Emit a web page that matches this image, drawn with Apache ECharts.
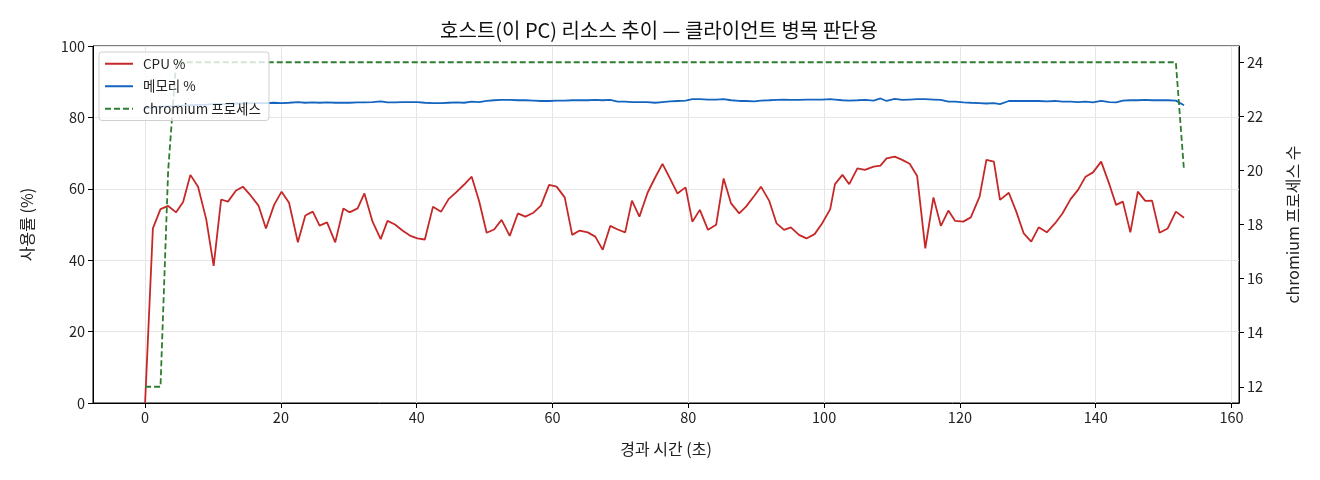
<!DOCTYPE html>
<html>
<head>
<meta charset="utf-8">
<script src="https://cdn.jsdelivr.net/npm/echarts@6/dist/echarts.min.js"></script>
<style>
  html, body { margin: 0; padding: 0; background: #fff; }
  #main { width: 1320px; height: 480px; }
</style>
</head>
<body>
<div id="main"></div>
<script>
// 경과 시간 (초)
var times = [
  0, 1.15, 2.27, 3.4, 4.57, 5.6, 6.67, 7.8, 9.0, 10.1,
  11.2, 12.2, 13.4, 14.4, 15.6, 16.7, 17.8, 19.0, 20.1, 21.2,
  22.5, 23.6, 24.7, 25.7, 26.8, 28.0, 29.2, 30.1, 31.3, 32.3,
  33.5, 34.7, 35.7, 36.8, 37.9, 39.0, 40.1, 41.2, 42.4, 43.6,
  44.7, 45.8, 47.0, 48.1, 49.2, 50.3, 51.4, 52.5, 53.7, 54.9,
  56.0, 57.2, 58.3, 59.5, 60.6, 61.8, 62.9, 64.0, 65.2, 66.3,
  67.4, 68.5, 69.6, 70.7, 71.7, 72.8, 74.0, 75.1, 76.2, 77.3,
  78.4, 79.6, 80.6, 81.7, 82.9, 84.1, 85.2, 86.3, 87.5, 88.5,
  89.7, 90.7, 91.9, 93.0, 94.1, 95.1, 96.3, 97.4, 98.6, 99.7,
  100.9, 101.6, 102.7, 103.7, 104.9, 106.0, 107.3, 108.3, 109.2, 110.4,
  111.5, 112.6, 113.7, 114.9, 116.1, 117.2, 118.3, 119.3, 120.5, 121.6,
  122.9, 123.9, 125.0, 125.9, 127.2, 128.3, 129.4, 130.5, 131.6, 132.8,
  134.0, 135.1, 136.3, 137.4, 138.5, 139.6, 140.8, 142.0, 143.0, 144.0,
  145.1, 146.2, 147.3, 148.3, 149.4, 150.6, 151.8, 153.0
];
var cpu = [
  0, 48.9, 54.3, 55.2, 53.4, 56.3, 63.9, 60.6, 51.5, 38.4,
  57.0, 56.4, 59.5, 60.6, 58.0, 55.3, 48.9, 55.5, 59.2, 56.1,
  45.0, 52.5, 53.6, 49.7, 50.6, 45.0, 54.5, 53.4, 54.5, 58.7,
  50.8, 45.9, 51.0, 50.0, 48.3, 46.9, 46.1, 45.8, 55.0, 53.6,
  57.1, 59.0, 61.2, 63.4, 56.5, 47.7, 48.6, 51.3, 46.8, 53.1,
  52.2, 53.3, 55.3, 61.1, 60.6, 57.6, 47.1, 48.3, 47.8, 46.6,
  42.9, 49.6, 48.6, 47.8, 56.7, 52.2, 58.9, 63.1, 67.0, 62.9,
  58.7, 60.4, 50.8, 54.1, 48.5, 49.9, 62.9, 55.9, 53.1, 55.0,
  58.0, 60.6, 56.7, 50.3, 48.5, 49.2, 47.1, 46.1, 47.3, 50.3,
  54.3, 61.3, 63.9, 61.3, 65.7, 65.3, 66.2, 66.5, 68.5, 69.0,
  68.1, 67.0, 63.6, 43.3, 57.6, 49.6, 53.9, 51.0, 50.8, 52.0,
  57.8, 68.1, 67.6, 56.9, 58.9, 53.6, 47.5, 45.2, 49.2, 47.8,
  50.3, 53.1, 57.1, 59.7, 63.4, 64.6, 67.6, 61.3, 55.5, 56.4,
  47.8, 59.2, 56.6, 56.7, 47.7, 48.9, 53.6, 51.9
];
var mem = [
  82.6, 82.8, 83.0, 83.1, 83.2, 83.3, 83.4, 83.5, 83.6, 83.7,
  83.7, 83.8, 83.9, 83.9, 84.0, 84.0, 84.0, 84.1, 84.0, 84.1,
  84.3, 84.1, 84.2, 84.1, 84.2, 84.1, 84.1, 84.1, 84.2, 84.2,
  84.3, 84.5, 84.2, 84.2, 84.3, 84.3, 84.3, 84.1, 84.0, 84.0,
  84.1, 84.2, 84.1, 84.4, 84.3, 84.6, 84.8, 84.9, 84.9, 84.8,
  84.8, 84.7, 84.6, 84.6, 84.7, 84.7, 84.8, 84.8, 84.8, 84.9,
  84.8, 84.9, 84.4, 84.4, 84.3, 84.3, 84.3, 84.1, 84.3, 84.5,
  84.6, 84.7, 85.1, 85.1, 85.0, 85.0, 85.1, 84.8, 84.6, 84.6,
  84.5, 84.7, 84.8, 84.9, 85.0, 84.9, 84.9, 85.0, 85.0, 85.0,
  85.1, 85.0, 84.8, 84.7, 84.8, 84.9, 84.7, 85.3, 84.6, 85.2,
  84.9, 85.0, 85.1, 85.1, 85.0, 84.9, 84.4, 84.4, 84.2, 84.1,
  84.0, 83.9, 84.0, 83.7, 84.6, 84.6, 84.6, 84.6, 84.6, 84.5,
  84.6, 84.4, 84.4, 84.3, 84.4, 84.2, 84.6, 84.3, 84.2, 84.7,
  84.8, 84.8, 84.9, 84.8, 84.8, 84.8, 84.7, 83.4
];
var procs = [
  12, 12, 12, 20, 24, 24, 24, 24, 24, 24,
  24, 24, 24, 24, 24, 24, 24, 24, 24, 24,
  24, 24, 24, 24, 24, 24, 24, 24, 24, 24,
  24, 24, 24, 24, 24, 24, 24, 24, 24, 24,
  24, 24, 24, 24, 24, 24, 24, 24, 24, 24,
  24, 24, 24, 24, 24, 24, 24, 24, 24, 24,
  24, 24, 24, 24, 24, 24, 24, 24, 24, 24,
  24, 24, 24, 24, 24, 24, 24, 24, 24, 24,
  24, 24, 24, 24, 24, 24, 24, 24, 24, 24,
  24, 24, 24, 24, 24, 24, 24, 24, 24, 24,
  24, 24, 24, 24, 24, 24, 24, 24, 24, 24,
  24, 24, 24, 24, 24, 24, 24, 24, 24, 24,
  24, 24, 24, 24, 24, 24, 24, 24, 24, 24,
  24, 24, 24, 24, 24, 24, 24, 20
];
var xTicks = [0, 20, 40, 60, 80, 100, 120, 140, 160];
var procTicks = [12, 14, 16, 18, 20, 22, 24];

var FONT = '"Noto Sans CJK KR", "Noto Sans", sans-serif';

function pairs(ys) {
  return ys.map(function (v, i) { return [times[i], v]; });
}

var chart = echarts.init(document.getElementById('main'), null, { renderer: 'canvas' });
chart.setOption({
  animation: false,
  backgroundColor: '#fff',
  textStyle: { fontFamily: FONT },
  title: {
    text: '호스트(이 PC) 리소스 추이 — 클라이언트 병목 판단용',
    left: 654, top: 15, textAlign: 'center',
    textStyle: { fontFamily: FONT, fontSize: 20, fontWeight: 'normal', color: '#111' }
  },
  grid: {
    left: 93, right: 81, top: 46, bottom: 77,
    show: true, borderColor: '#000', borderWidth: 1, backgroundColor: 'transparent'
  },
  legend: {
    orient: 'vertical', left: 99, top: 52,
    itemWidth: 28, itemHeight: 14, itemGap: 9,
    padding: [5, 8, 5, 5],
    backgroundColor: 'rgba(255,255,255,0.8)',
    borderColor: '#d0d0d0', borderWidth: 1, borderRadius: 3,
    itemStyle: { opacity: 0 },
    textStyle: { fontFamily: FONT, fontSize: 13.5, color: '#222', padding: [0, 0, 0, 5] },
    data: ['CPU %', '메모리 %', 'chromium 프로세스']
  },
  xAxis: {
    type: 'value', min: -7.67, max: 161.1,
    name: '경과 시간 (초)', nameLocation: 'middle', nameGap: 38,
    nameTextStyle: { fontFamily: FONT, fontSize: 16, color: '#222' },
    axisLine: { onZero: false, lineStyle: { color: '#000', width: 1 } },
    axisTick: { customValues: xTicks, length: 5, lineStyle: { color: '#000' } },
    axisLabel: { customValues: xTicks, fontFamily: FONT, fontSize: 14.5, color: '#222', margin: 7 },
    splitLine: { show: true, lineStyle: { color: '#e6e6e6', width: 1 } }
  },
  yAxis: [{
    type: 'value', min: 0, max: 100, interval: 20, position: 'left',
    name: '사용률 (%)', nameLocation: 'middle', nameGap: 58, nameRotate: 90,
    nameTextStyle: { fontFamily: FONT, fontSize: 16, color: '#222' },
    axisLine: { show: true, onZero: false, lineStyle: { color: '#000', width: 1 } },
    axisTick: { show: true, length: 5, lineStyle: { color: '#000' } },
    axisLabel: { fontFamily: FONT, fontSize: 14.5, color: '#222', margin: 8 },
    splitLine: { show: true, lineStyle: { color: '#e6e6e6', width: 1 } }
  }, {
    type: 'value', min: 11.4, max: 24.6, position: 'right',
    name: 'chromium 프로세스 수', nameLocation: 'middle', nameGap: 46, nameRotate: 90,
    nameTextStyle: { fontFamily: FONT, fontSize: 16, color: '#222' },
    axisLine: { show: true, onZero: false, lineStyle: { color: '#000', width: 1 } },
    axisTick: { show: true, customValues: procTicks, length: 5, lineStyle: { color: '#000' } },
    axisLabel: { customValues: procTicks, fontFamily: FONT, fontSize: 14.5, color: '#222', margin: 8 },
    splitLine: { show: false }
  }],
  series: [{
    name: 'CPU %', type: 'line', yAxisIndex: 0, symbol: 'none',
    data: pairs(cpu),
    itemStyle: { color: '#c62828' },
    lineStyle: { color: '#c62828', width: 1.8 }
  }, {
    name: '메모리 %', type: 'line', yAxisIndex: 0, symbol: 'none',
    data: pairs(mem),
    itemStyle: { color: '#1565c0' },
    lineStyle: { color: '#1565c0', width: 1.8 }
  }, {
    name: 'chromium 프로세스', type: 'line', yAxisIndex: 1, symbol: 'none',
    data: pairs(procs),
    itemStyle: { color: '#2e7d32' },
    lineStyle: { color: '#2e7d32', width: 1.8, type: [6, 3] }
  }]
});
</script>
</body>
</html>
